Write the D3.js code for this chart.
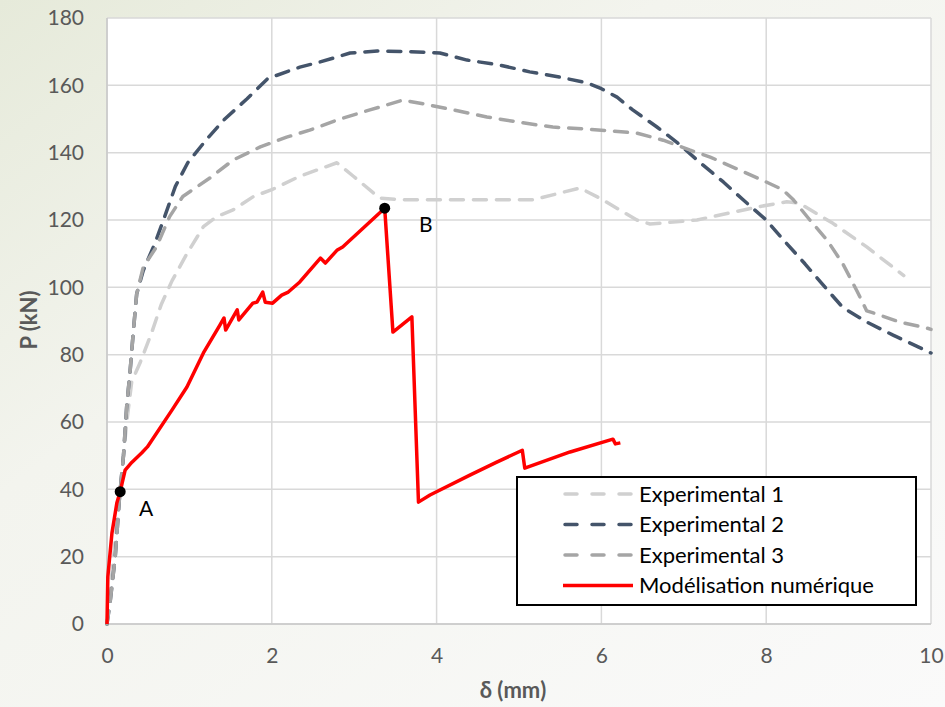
<!DOCTYPE html>
<html>
<head>
<meta charset="utf-8">
<script src="https://cdn.jsdelivr.net/npm/d3@7"></script>
<style>
  html, body { margin: 0; padding: 0; }
  body { width: 945px; height: 707px; overflow: hidden; }
  text { font-family: Lato, "Open Sans", sans-serif; }
</style>
</head>
<body>
<div id="chart"></div>
<script>
/* data: [delta (mm), P (kN)] */
var exp1 = [[0,0],[0.08,20],[0.16,40],[0.24,60],[0.3,72],[0.4,77.5],[0.54,86.4],[0.66,95],[0.79,102],[0.97,110],[1.17,118],[1.33,121],[1.53,123],[1.78,127],[2.0,129],[2.34,133],[2.79,137],[2.99,133],[3.31,126.5],[3.6,126],[4.5,126],[5.17,126],[5.74,129.5],[5.98,126.5],[6.43,120],[6.59,118.8],[7.16,120],[7.92,124],[8.25,125.4],[8.4,125],[8.81,119],[9.22,112],[9.67,103.5]];
var exp2 = [[0,0],[0.04,7],[0.1,20],[0.15,37],[0.2,50],[0.24,65],[0.28,75],[0.32,87],[0.36,98],[0.44,105],[0.58,113],[0.7,121],[0.83,130],[0.98,137],[1.21,144],[1.43,150],[1.7,156],[1.95,162],[2.34,165.4],[2.58,166.9],[2.95,169.6],[3.28,170.2],[3.68,170],[4.04,169.6],[4.37,167.5],[4.77,166],[5.13,164],[5.5,162.4],[5.83,160.7],[6.0,159],[6.19,156.5],[6.38,152.7],[6.67,147.7],[6.92,143],[7.2,137],[7.48,131.3],[7.72,126],[8.0,120],[8.23,113.5],[8.47,107],[8.69,100.7],[8.93,94],[9.22,89.7],[9.54,85.8],[9.87,82],[10,80.5]];
var exp3 = [[0,0],[0.04,7],[0.1,20],[0.15,37],[0.2,50],[0.24,65],[0.28,75],[0.32,87],[0.36,98],[0.44,106],[0.6,112],[0.76,121],[0.92,127],[1.25,132.5],[1.53,137.8],[1.86,141.7],[2.18,144.6],[2.46,146.7],[2.83,150],[3.19,152.7],[3.59,155.6],[3.8,154.7],[4.2,152.7],[4.61,150.6],[5.01,149],[5.41,147.6],[5.83,147],[6.14,146.4],[6.43,145.8],[6.75,143.7],[7.07,140.8],[7.32,138.7],[7.68,134.8],[8.0,131.3],[8.2,129],[8.33,126],[8.53,120],[8.74,114],[8.93,107],[9.1,99],[9.22,93],[9.3,92.4],[9.62,89.7],[9.95,87.9],[10,87.5]];
var numerique = [[0,0],[0.01,14],[0.06,27],[0.12,36],[0.16,39.3],[0.22,45.7],[0.3,48],[0.42,50.8],[0.49,52.6],[0.79,63.6],[0.97,70.4],[1.17,80.5],[1.37,88.8],[1.42,90.9],[1.44,87.3],[1.58,93.3],[1.6,90.3],[1.77,95.3],[1.82,95.6],[1.89,98.6],[1.92,95.6],[2.01,95.3],[2.12,97.7],[2.2,98.6],[2.34,101.6],[2.59,108.7],[2.65,107.2],[2.79,111],[2.86,112],[3.11,117.6],[3.37,123.5],[3.47,86.7],[3.7,91.2],[3.78,36.2],[3.92,38.3],[4.41,44.3],[4.73,48.1],[5.04,51.6],[5.07,46.3],[5.62,51.1],[6.14,54.9],[6.17,53.5],[6.23,53.8]];
var points = [{label: "A", x: 0.16, y: 39.3}, {label: "B", x: 3.37, y: 123.5}];
var xTicks = [0, 2, 4, 6, 8, 10];
var yTicks = [0, 20, 40, 60, 80, 100, 120, 140, 160, 180];
var seriesNames = ["Experimental 1", "Experimental 2", "Experimental 3", "Modélisation numérique"];

var W = 945, H = 707;
var margin = {top: 18, right: 14, bottom: 83, left: 107};
var width = W - margin.left - margin.right,
  height = H - margin.top - margin.bottom;

var svg = d3.select("#chart").append("svg")
  .attr("width", W)
  .attr("height", H);

/* background gradient */
var defs = svg.append("defs");
var grad = defs.append("linearGradient")
  .attr("id", "bg")
  .attr("x1", "0").attr("y1", "0")
  .attr("x2", "1").attr("y2", "1");
grad.append("stop").attr("offset", "0%").attr("stop-color", "#e6eada");
grad.append("stop").attr("offset", "35%").attr("stop-color", "#f3f4ee");
grad.append("stop").attr("offset", "100%").attr("stop-color", "#fafafa");
svg.append("rect").attr("width", W).attr("height", H).attr("fill", "url(#bg)");

var g = svg.append("g")
  .attr("transform", "translate(" + margin.left + "," + margin.top + ")");

var x = d3.scaleLinear().domain([0, 10]).range([0, width]);
var y = d3.scaleLinear().domain([0, 180]).range([height, 0]);

g.append("rect").attr("width", width).attr("height", height).attr("fill", "#fff");

/* grid */
g.append("g").selectAll("line").data(yTicks).enter().append("line")
  .attr("x1", 0).attr("x2", width)
  .attr("y1", function(d) { return y(d); })
  .attr("y2", function(d) { return y(d); })
  .attr("stroke", "#d9d9d9").attr("stroke-width", 1.5);
g.append("g").selectAll("line").data(xTicks).enter().append("line")
  .attr("y1", 0).attr("y2", height)
  .attr("x1", function(d) { return x(d); })
  .attr("x2", function(d) { return x(d); })
  .attr("stroke", "#d9d9d9").attr("stroke-width", 1.5);
g.append("line").attr("x1", 0).attr("x2", 0).attr("y1", 0).attr("y2", height)
  .attr("stroke", "#c8c8c8").attr("stroke-width", 1.5);
g.append("line").attr("x1", 0).attr("x2", width).attr("y1", height).attr("y2", height)
  .attr("stroke", "#c8c8c8").attr("stroke-width", 1.5);

/* axes (labels only) */
var xAxis = g.append("g")
  .attr("transform", "translate(0," + height + ")")
  .call(d3.axisBottom(x).tickValues(xTicks).tickSize(0).tickPadding(24));
var yAxis = g.append("g")
  .call(d3.axisLeft(y).tickValues(yTicks).tickSize(0).tickPadding(23));
[xAxis, yAxis].forEach(function(a) {
  a.select(".domain").remove();
  a.selectAll("text")
    .attr("fill", "#595959")
    .style("font-size", "21px")
    .style("font-family", "Lato, sans-serif");
});

/* axis titles */
svg.append("text")
  .attr("x", margin.left + width / 2 - 6).attr("y", 698)
  .attr("text-anchor", "middle")
  .attr("fill", "#595959")
  .style("font-size", "22px").style("font-weight", "bold")
  .text("δ (mm)");
svg.append("text")
  .attr("transform", "translate(37,320) rotate(-90)")
  .attr("text-anchor", "middle")
  .attr("fill", "#595959")
  .style("font-size", "22px").style("font-weight", "bold")
  .text("P (kN)");

/* series */
var line = d3.line()
  .x(function(d) { return x(d[0]); })
  .y(function(d) { return y(d[1]); });

var styles = [
  {data: exp1, color: "#d0d0d0", dash: "13,10", w: 3.5},
  {data: exp2, color: "#44546a", dash: "13,10", w: 3.5},
  {data: exp3, color: "#a5a5a5", dash: "13,10", w: 3.5},
  {data: numerique, color: "#ff0000", dash: null, w: 3.5}
];

styles.forEach(function(s) {
  g.append("path")
    .datum(s.data)
    .attr("d", line)
    .attr("fill", "none")
    .attr("stroke", s.color)
    .attr("stroke-width", s.w)
    .attr("stroke-linejoin", "round")
    .attr("stroke-linecap", s.dash ? "round" : "butt")
    .attr("stroke-dasharray", s.dash);
});

/* A / B markers */
var labelShift = {A: 26, B: 41};
g.selectAll(".pt").data(points).enter().append("circle")
  .attr("cx", function(d) { return x(d.x); })
  .attr("cy", function(d) { return y(d.y); })
  .attr("r", 5.5)
  .attr("fill", "#000");
g.selectAll(".lbl").data(points).enter().append("text")
  .attr("x", function(d) { return x(d.x) + labelShift[d.label]; })
  .attr("y", function(d) { return y(d.y) + 24; })
  .attr("text-anchor", "middle")
  .attr("fill", "#000")
  .style("font-size", "21px")
  .text(function(d) { return d.label; });

/* legend */
var lg = svg.append("g").attr("transform", "translate(517,477)");
lg.append("rect")
  .attr("width", 399).attr("height", 128)
  .attr("fill", "#fff").attr("stroke", "#000").attr("stroke-width", 2);
var rows = lg.selectAll(".row").data(styles).enter().append("g")
  .attr("transform", function(d, i) { return "translate(0," + (17 + i * 30.5) + ")"; });
rows.append("line")
  .attr("stroke", function(d) { return d.color; })
  .attr("stroke-width", function(d) { return d.w; })
  .attr("stroke-linecap", function(d) { return d.dash ? "round" : "butt"; })
  .attr("x1", function(d) { return d.dash ? 48 : 46; })
  .attr("x2", function(d) { return d.dash ? 114 : 116; })
  .attr("stroke-dasharray", function(d) { return d.dash ? "12,15" : null; });
rows.append("text")
  .attr("x", 122).attr("dy", "0.35em")
  .attr("fill", "#000")
  .style("font-size", "22px")
  .text(function(d, i) { return seriesNames[i]; });
</script>
</body>
</html>
